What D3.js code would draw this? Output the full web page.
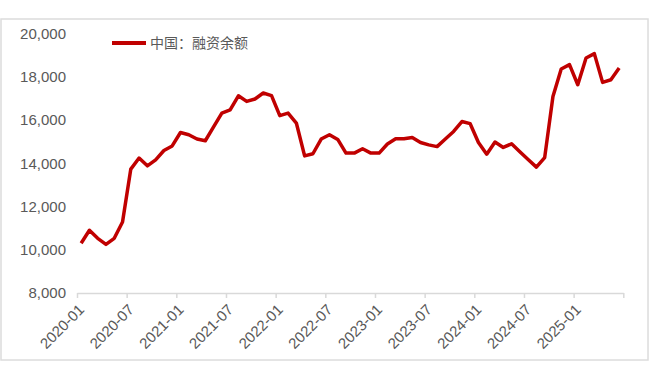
<!DOCTYPE html>
<html>
<head>
<meta charset="utf-8">
<style>
    body { margin: 0; background: #fff; }
    text { font-family: "Liberation Sans", Arial, "Noto Sans CJK SC", sans-serif; fill: #595959; }
</style>
</head>
<body>
    <div class="graph"></div>

    <script src="https://cdnjs.cloudflare.com/ajax/libs/d3/7.8.5/d3.min.js"></script>
    <script>
        // months 2020-01 .. 2025-06
        var months = d3.timeMonths(new Date(2020, 0, 1), new Date(2025, 6, 1)).map(d3.timeFormat('%Y-%m'))

        // 中国：融资余额 (亿元)
        var margin = [
            10300, 10900, 10530, 10250, 10530, 11280, 13730, 14240, 13880, 14160, 14590, 14800,
            15420, 15320, 15120, 15040, 15680, 16320, 16470, 17120, 16860, 16970, 17250, 17130,
            16200, 16320, 15860, 14340, 14440, 15120, 15320, 15100, 14470, 14470, 14670, 14470,
            14470, 14890, 15130, 15130, 15190, 14960, 14850, 14770, 15120, 15470, 15930, 15830,
            14960, 14420, 14980, 14730, 14900, 14530, 14170, 13820, 14260, 17090, 18360, 18560,
            17630, 18870, 19070, 17740, 17860, 18400
        ]

        var yTicks = [8000, 10000, 12000, 14000, 16000, 18000, 20000]
        var seriesName = '中国：融资余额'

        var width = 660,
            height = 375

        var svg = d3.select('.graph').append('svg')
            .attr('width', width)
            .attr('height', height)

        // frame
        svg.append('rect')
            .attr('x', 1).attr('y', 19)
            .attr('width', 647).attr('height', 341)
            .style('fill', 'none')
            .style('stroke', '#dcdcdc')
            .style('stroke-width', 1.5)

        // index scale, one band per month
        var x = d3.scaleLinear()
            .domain([0, months.length])
            .range([77, 623.3])

        var y = d3.scaleLinear()
            .domain([8000, 20000])
            .range([293, 33.5])

        var tickIdx = d3.range(0, months.length + 1, 6)

        var x_axis = svg.append('g')
            .attr('transform', 'translate(0,' + y(8000) + ')')
            .call(d3.axisBottom(x).tickValues(tickIdx).tickSize(5).tickSizeOuter(0)
                .tickFormat(function (i) { return months[i] || '' }))

        x_axis.selectAll('.domain, .tick line').style('stroke', '#d9d9d9').style('stroke-width', 1.5)
        x_axis.selectAll('text')
            .style('font-size', '15px')
            .style('fill', '#595959')
            .attr('text-anchor', 'end')
            .attr('y', 0).attr('dy', '0.35em')
            .attr('transform', 'translate(4,14) rotate(-45)')

        var y_axis = svg.append('g')
            .attr('transform', 'translate(77,0)')
            .call(d3.axisLeft(y).tickValues(yTicks).tickSize(0).tickPadding(11).tickFormat(d3.format(',')))

        y_axis.select('.domain').remove()
        y_axis.selectAll('text').style('font-size', '15px').style('fill', '#595959')

        var line = d3.line()
            .x(function (d, i) { return x(i + 0.5) })
            .y(function (d) { return y(d) })

        svg.append('path')
            .datum(margin)
            .attr('d', line)
            .style('fill', 'none')
            .style('stroke', '#c00000')
            .style('stroke-width', 3.5)
            .style('stroke-linejoin', 'round')

        // legend
        var legend = svg.append('g')
        legend.append('line')
            .attr('x1', 112).attr('x2', 146)
            .attr('y1', 43).attr('y2', 43)
            .style('stroke', '#c00000')
            .style('stroke-width', 4)
        legend.append('text')
            .attr('x', 150).attr('y', 43)
            .attr('dy', '0.35em')
            .style('font-size', '14px')
            .style('font-family', '"Noto Sans CJK SC", sans-serif')
            .text(seriesName)
    </script>
</body>
</html>
